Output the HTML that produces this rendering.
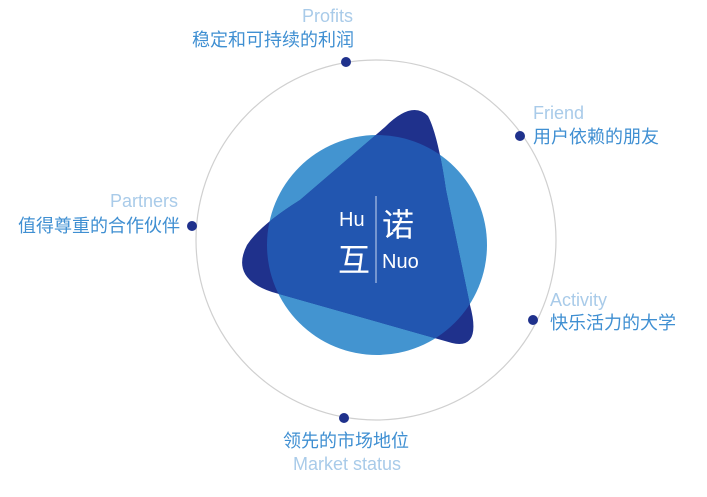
<!DOCTYPE html>
<html><head><meta charset="utf-8"><style>
html,body{margin:0;padding:0;background:#fff;}
svg{display:block;}
text{font-family:"Liberation Sans","Noto Sans CJK SC",sans-serif;}
.en{fill:#a9cbe9;font-size:18px;}
.zh{fill:#3f8fd2;font-size:18px;}
</style></head><body>
<svg width="707" height="497" viewBox="0 0 707 497">
<defs>
<clipPath id="cc"><circle cx="377" cy="245" r="110"/></clipPath>
<path id="tri" d="M 385,127 Q 412,100 428,116 Q 438,135 446,190 L 470,305 Q 482,350 452,343 L 272,292 Q 230,278 247,245 Q 260,225 300,200 Z"/>
</defs>
<circle cx="376" cy="240" r="180" fill="none" stroke="#d0d0d0" stroke-width="1.2"/>
<circle cx="377" cy="245" r="110" fill="#4394d0"/>
<use href="#tri" fill="#1f318c"/>
<use href="#tri" fill="#2256b0" clip-path="url(#cc)"/>
<line x1="376" y1="196" x2="376" y2="283" stroke="#c8d6f0" stroke-width="1"/>
<text x="339" y="226" fill="#fff" font-size="20">Hu</text>
<text x="382" y="236" fill="#fff" font-size="32">诺</text>
<text x="338" y="271" fill="#fff" font-size="32">互</text>
<text x="382" y="268" fill="#fff" font-size="20">Nuo</text>
<circle cx="346" cy="62" r="5" fill="#1f318c"/>
<circle cx="520" cy="136" r="5" fill="#1f318c"/>
<circle cx="192" cy="226" r="5" fill="#1f318c"/>
<circle cx="533" cy="320" r="5" fill="#1f318c"/>
<circle cx="344" cy="418" r="5" fill="#1f318c"/>
<text class="en" x="353" y="22" text-anchor="end">Profits</text>
<text class="zh" x="354" y="46" text-anchor="end">稳定和可持续的利润</text>
<text class="en" x="533" y="119">Friend</text>
<text class="zh" x="533" y="143">用户依赖的朋友</text>
<text class="en" x="178" y="207" text-anchor="end">Partners</text>
<text class="zh" x="180" y="232" text-anchor="end">值得尊重的合作伙伴</text>
<text class="en" x="550" y="306">Activity</text>
<text class="zh" x="550" y="329">快乐活力的大学</text>
<text class="zh" x="346" y="447" text-anchor="middle">领先的市场地位</text>
<text class="en" x="347" y="470" text-anchor="middle">Market status</text>
</svg>
</body></html>
